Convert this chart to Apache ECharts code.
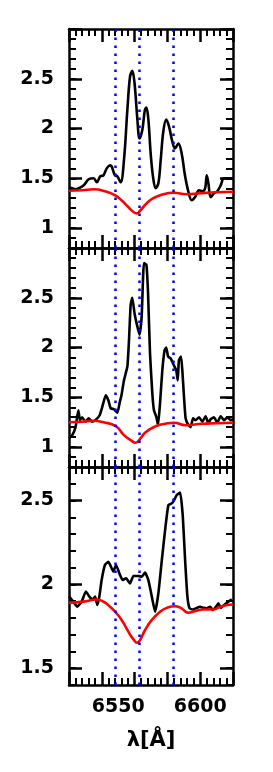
<!DOCTYPE html>
<html><head><meta charset="utf-8">
<script src="https://cdn.jsdelivr.net/npm/echarts@6/dist/echarts.min.js"></script>
<style>html,body{margin:0;padding:0;background:#fff;}#c{width:273px;height:772px;}</style>
</head><body><div id="c"></div>
<script>
// Wavelengths of reference lines ([NII] 6548, H-alpha, [NII] 6584)
const lineCenters = [6548.1, 6562.8, 6583.6];
const xTickLabels = [6550, 6600];

// Panel 1 observed spectrum
const p1ObsWave = [6520,6522,6524,6526,6529,6532,6535,6537,6539,6541,6543,6545,6546,6548,6549.5,6551.5,6553.5,6555.6,6557.2,6558.6,6560,6561.7,6563,6564.7,6566.3,6567.2,6568.4,6569.8,6571.2,6572.8,6574.5,6575.9,6577.5,6579.3,6581,6583,6584.6,6586.7,6588.7,6590.7,6592.8,6594.8,6596.8,6599.3,6601.3,6603,6604,6605,6606.4,6608.4,6610.4,6612.5,6614.5,6617.6,6620];
const p1Obs = [1.41,1.40,1.39,1.40,1.43,1.49,1.50,1.46,1.52,1.53,1.60,1.63,1.62,1.53,1.52,1.46,1.68,2.19,2.52,2.58,2.45,2.09,1.90,1.985,2.19,2.21,2.09,1.75,1.52,1.40,1.45,1.68,1.97,2.09,2.02,1.87,1.80,1.85,1.75,1.53,1.365,1.28,1.31,1.38,1.37,1.40,1.53,1.45,1.31,1.35,1.37,1.43,1.50,1.50,1.50];
// Panel 1 model
const p1ModWave = [6520,6528,6535,6543,6548,6552,6556,6559.2,6561.3,6563.3,6567.4,6571.4,6577.5,6583.6,6591.8,6600,6610,6620];
const p1Mod = [1.375,1.38,1.39,1.365,1.33,1.28,1.214,1.164,1.148,1.174,1.25,1.30,1.34,1.355,1.34,1.35,1.36,1.365];

// Panel 2 observed spectrum
const p2ObsWave = [6520,6522,6524,6525.7,6526.7,6528,6530,6532,6534,6536,6538.7,6540.3,6542.4,6544,6545.4,6547.4,6549.5,6551,6552,6553.5,6555.6,6556.6,6557.6,6558.6,6560,6561.7,6563,6564.3,6565.7,6567.2,6568.2,6569.4,6570.8,6571.8,6573.3,6574.3,6575.5,6576.9,6578.3,6579.3,6580.4,6582,6584,6585.4,6586.3,6587,6588.3,6589.1,6590.1,6591.1,6592.8,6594.2,6595.6,6597.2,6599.3,6601.3,6603.3,6605,6606.4,6608.4,6610.4,6612.5,6614.5,6616.5,6618.6,6620];
const p2Obs = [1.09,1.12,1.20,1.37,1.27,1.30,1.255,1.29,1.255,1.27,1.32,1.405,1.52,1.47,1.39,1.38,1.345,1.455,1.52,1.67,1.81,2.08,2.43,2.50,2.34,2.21,2.13,2.31,2.85,2.83,2.545,1.94,1.54,1.37,1.30,1.22,1.44,1.77,1.975,2.00,1.91,1.89,1.82,1.77,1.67,1.87,1.91,1.77,1.51,1.29,1.22,1.20,1.29,1.27,1.30,1.255,1.31,1.24,1.28,1.30,1.245,1.31,1.27,1.30,1.27,1.28];
// Panel 2 model
const p2ModWave = [6520,6528,6535,6541,6548.5,6553.5,6557.6,6560.6,6563.7,6566.7,6572.8,6578.9,6584,6591.1,6601.3,6610,6620];
const p2Mod = [1.25,1.255,1.265,1.25,1.21,1.12,1.07,1.044,1.09,1.15,1.21,1.235,1.245,1.22,1.235,1.24,1.245];

// Panel 3 observed spectrum
const p3ObsWave = [6520.2,6522.6,6525,6527.7,6530.3,6532.4,6534.4,6535.9,6537.3,6538.5,6539.9,6541.9,6544,6546,6547,6548.7,6550.7,6552.7,6554.8,6557.2,6559.3,6562.3,6564.4,6566.4,6568.4,6570.5,6572.5,6574.5,6576.6,6578.6,6580.6,6582.7,6584.1,6585.7,6587.8,6589.4,6590.8,6592.2,6593.5,6595.5,6597.9,6599.9,6602,6604,6606.1,6607.7,6609.7,6611.1,6612.6,6614.6,6617.2,6619.3];
const p3Obs = [1.927,1.897,1.867,1.897,1.957,1.927,1.91,1.927,1.877,1.927,2.026,2.116,2.135,2.096,2.076,2.116,2.066,2.026,2.036,2.006,2.05,2.05,2.046,2.07,2.026,1.927,1.837,1.947,2.145,2.324,2.473,2.483,2.503,2.533,2.547,2.404,2.145,1.927,1.857,1.85,1.86,1.867,1.86,1.857,1.867,1.847,1.867,1.887,1.86,1.877,1.897,1.91];
// Panel 3 model
const p3ModWave = [6520,6528.8,6536.9,6541,6545,6548.1,6552.1,6556.2,6559.3,6561.7,6563.3,6566.4,6570.5,6575.5,6579.6,6584.6,6588.6,6592.7,6596.8,6601.8,6607.9,6613,6619.7];
const p3Mod = [1.891,1.897,1.91,1.897,1.867,1.837,1.788,1.718,1.672,1.652,1.668,1.728,1.788,1.837,1.86,1.87,1.857,1.831,1.84,1.85,1.85,1.87,1.88];

// Axis settings per panel
const yRanges = [[0.8, 3.0], [0.8, 3.0], [1.4, 2.7]];
const yMajorTicks = [[1, 1.5, 2, 2.5, 3], [1, 1.5, 2, 2.5, 3], [1.5, 2, 2.5]];
const yTickLabels = [[1, 1.5, 2, 2.5], [1, 1.5, 2, 2.5], [1.5, 2, 2.5]];

const pair = (w, v) => w.map((x, k) => [x, v[k]]);
const obs = [pair(p1ObsWave, p1Obs), pair(p2ObsWave, p2Obs), pair(p3ObsWave, p3Obs)];
const mod = [pair(p1ModWave, p1Mod), pair(p2ModWave, p2Mod), pair(p3ModWave, p3Mod)];

const FONT = 'DejaVu Sans';
const axisLine = { show: true, onZero: false, lineStyle: { color: '#000', width: 2.5 } };
const labelStyle = { color: '#000', fontFamily: FONT, fontWeight: 'bold', fontSize: 19, formatter: v => String(v) };

const gridPos = [{ top: 29, height: 219 }, { top: 248, height: 219 }, { top: 467, height: 218 }];
const grid = gridPos.map(g => ({ left: 69, width: 164, top: g.top, height: g.height }));

const xAxis = [], yAxis = [], series = [];
for (let i = 0; i < 3; i++) {
  ['bottom', 'top'].forEach(pos => {
    const ax = {
      gridIndex: i, type: 'value', min: 6520, max: 6620, interval: 20, position: pos,
      axisLine: axisLine,
      axisTick: { show: true, inside: true, length: 13, lineStyle: { color: '#000', width: 2.5 } },
      minorTick: { show: true, splitNumber: 5, length: 7, lineStyle: { color: '#000', width: 2 } },
      splitLine: { show: false }, minorSplitLine: { show: false },
      axisLabel: { show: false }
    };
    if (i === 2 && pos === 'bottom') {
      ax.axisLabel = Object.assign({ show: true, customValues: xTickLabels, margin: 13 }, labelStyle);
      ax.name = 'λ[Å]';
      ax.nameLocation = 'middle';
      ax.nameGap = 45;
      ax.nameTextStyle = { color: '#000', fontFamily: FONT, fontWeight: 'bold', fontSize: 21 };
    }
    xAxis.push(ax);
  });
  ['left', 'right'].forEach(pos => {
    yAxis.push({
      gridIndex: i, type: 'value', min: yRanges[i][0], max: yRanges[i][1], position: pos,
      axisLine: axisLine,
      axisTick: { show: true, inside: true, length: 13, customValues: yMajorTicks[i], lineStyle: { color: '#000', width: 2.5 } },
      splitLine: { show: false },
      axisLabel: pos === 'left' ? Object.assign({ show: true, customValues: yTickLabels[i], margin: 15 }, labelStyle) : { show: false }
    });
    yAxis.push({
      gridIndex: i, type: 'value', min: yRanges[i][0], max: yRanges[i][1], interval: 0.1, position: pos,
      axisLine: { show: false },
      axisTick: { show: true, inside: true, length: 7, lineStyle: { color: '#000', width: 2 } },
      splitLine: { show: false },
      axisLabel: { show: false }
    });
  });
  series.push({
    type: 'line', xAxisIndex: 2 * i, yAxisIndex: 4 * i, data: obs[i], showSymbol: false,
    smooth: i === 0 ? 0.35 : 0.15,
    lineStyle: { color: '#000', width: 2.6 }, z: 3
  });
  series.push({
    type: 'line', xAxisIndex: 2 * i, yAxisIndex: 4 * i, data: mod[i], showSymbol: false, smooth: 0.5,
    lineStyle: { color: '#ff0000', width: 2.6 }, z: 4
  });
  series.push({
    type: 'line', xAxisIndex: 2 * i, yAxisIndex: 4 * i, data: [], showSymbol: false, z: 5,
    markLine: {
      silent: true, symbol: 'none', label: { show: false }, animation: false,
      lineStyle: { color: '#0000ff', width: 2.5, type: [2.5, 5.5] },
      data: lineCenters.map(v => ({ xAxis: v }))
    }
  });
}

const chart = echarts.init(document.getElementById('c'), null, { renderer: 'canvas' });
chart.setOption({ animation: false, backgroundColor: '#fff', grid, xAxis, yAxis, series });
</script>
</body></html>
